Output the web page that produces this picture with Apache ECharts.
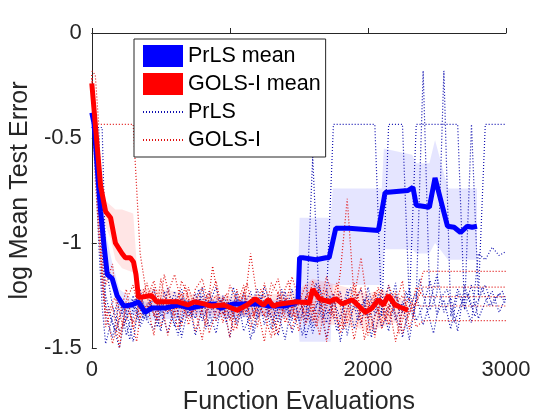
<!DOCTYPE html>
<html>
<head>
<meta charset="utf-8">
<script src="https://cdn.jsdelivr.net/npm/echarts@6/dist/echarts.min.js"></script>
<style>html,body{margin:0;padding:0;background:#fff;}#c{width:560px;height:420px;}</style>
</head>
<body>
<div id="c"></div>
<script>
// ---- data ----
const xTicks = [0, 1000, 2000, 3000];
const yTicks = [-1.5, -1, -0.5, 0];

const prlsMeanX = [0, 16, 40, 64, 90, 112, 148, 183, 231, 290, 337, 386, 433, 528, 624, 719, 814, 886, 933, 1029, 1052, 1195, 1290, 1400, 1493, 1505, 1529, 1624, 1695, 1719, 1767, 1862, 2076, 2124, 2290, 2326, 2350, 2445, 2486, 2576, 2624, 2671, 2719, 2755, 2790];
const prlsMeanY = [-0.38, -0.43, -0.65, -0.85, -1.02, -1.15, -1.17, -1.25, -1.30, -1.295, -1.28, -1.33, -1.31, -1.31, -1.295, -1.31, -1.295, -1.29, -1.31, -1.29, -1.29, -1.29, -1.30, -1.30, -1.28, -1.07, -1.07, -1.08, -1.07, -1.07, -0.93, -0.93, -0.94, -0.76, -0.75, -0.735, -0.82, -0.83, -0.69, -0.92, -0.925, -0.95, -0.92, -0.925, -0.92];

const golsMeanX = [0, 64, 100, 136, 171, 219, 243, 279, 302, 320, 338, 386, 433, 469, 552, 624, 695, 743, 814, 862, 957, 1052, 1124, 1183, 1243, 1279, 1314, 1362, 1481, 1576, 1600, 1648, 1719, 1767, 1814, 1886, 1981, 2029, 2076, 2112, 2148, 2195, 2290];
const golsMeanY = [-0.24, -0.73, -0.85, -0.88, -1.00, -1.05, -1.07, -1.07, -1.09, -1.15, -1.26, -1.255, -1.25, -1.28, -1.28, -1.28, -1.295, -1.28, -1.29, -1.30, -1.295, -1.32, -1.295, -1.265, -1.295, -1.27, -1.30, -1.29, -1.28, -1.285, -1.22, -1.265, -1.28, -1.265, -1.29, -1.27, -1.33, -1.31, -1.27, -1.295, -1.25, -1.295, -1.32];

const prlsBandX   = [0, 50, 100, 150, 200, 300, 400, 600, 800, 1000, 1200, 1400, 1490, 1505, 1730, 1745, 2100, 2115, 2320, 2350, 2445, 2486, 2580, 2790];
const prlsBandLow = [-0.42, -0.80, -1.12, -1.22, -1.34, -1.34, -1.37, -1.36, -1.35, -1.36, -1.35, -1.36, -1.35, -1.47, -1.47, -1.20, -1.20, -1.03, -1.03, -1.05, -1.05, -1.00, -1.08, -1.08];
const prlsBandUp  = [-0.30, -0.60, -0.95, -1.10, -1.22, -1.27, -1.28, -1.27, -1.27, -1.27, -1.27, -1.27, -1.27, -0.88, -0.88, -0.74, -0.74, -0.55, -0.58, -0.62, -0.62, -0.51, -0.74, -0.74];

const golsBandX   = [0, 64, 100, 136, 171, 219, 300, 320, 338, 500, 800, 1100, 1400, 1500, 1600, 1900, 2000, 2100, 2290];
const golsBandLow = [-0.28, -0.78, -0.92, -0.98, -1.08, -1.12, -1.14, -1.20, -1.31, -1.32, -1.34, -1.35, -1.34, -1.36, -1.38, -1.40, -1.42, -1.40, -1.36];
const golsBandUp  = [-0.20, -0.62, -0.80, -0.82, -0.84, -0.84, -0.86, -1.05, -1.22, -1.22, -1.25, -1.25, -1.24, -1.22, -1.17, -1.22, -1.24, -1.22, -1.28];

const runX = [0, 25, 50, 75, 100,
  150, 200, 250, 300, 350, 400, 450, 500, 550, 600,
  650, 700, 750, 800, 850, 900, 950, 1000, 1050, 1100,
  1150, 1200, 1250, 1300, 1350, 1400, 1450, 1500, 1550, 1600,
  1650, 1700, 1750, 1800, 1850, 1900, 1950, 2000, 2050, 2100,
  2150, 2200, 2250, 2300, 2350, 2400, 2450, 2500, 2550, 2600,
  2650, 2700, 2750, 2800, 2850, 2900, 2950, 3000];
const runXB = [0, 25, 50, 75, 100,
  175, 225, 275, 325, 375, 425, 475, 525, 575, 625,
  675, 725, 775, 825, 875, 925, 975, 1025, 1075, 1125,
  1175, 1225, 1275, 1325, 1375, 1425, 1475, 1525, 1575, 1625,
  1675, 1725, 1775, 1825, 1875, 1925, 1975, 2025, 2075, 2125,
  2175, 2225, 2275, 2325, 2375, 2425, 2475, 2525, 2575, 2625,
  2675, 2725, 2775, 2825, 2875, 2925, 2975, 3000];

const prlsRun1 = [-0.45, -0.45, -0.45, -0.45, -1.10,
  -1.30, -1.42, -1.36, -1.25, -1.38, -1.30, -1.22, -1.35, -1.28, -1.40,
  -1.26, -1.33, -1.24, -1.37, -1.29, -1.21, -1.34, -1.27, -1.39, -1.30,
  -1.23, -1.36, -1.28, -1.41, -1.25, -1.33, -1.22, -1.37, -1.29, -1.43,
  -1.31, -1.26, -0.435, -0.435, -0.435, -0.435, -0.435, -0.435, -0.435, -1.35,
  -0.435, -0.435, -0.435, -1.28, -0.435, -0.435, -0.435, -0.435, -0.435, -0.435,
  -0.435, -1.32, -0.435, -1.25, -0.435, -0.435, -0.435, -0.435];
const prlsRun2 = [-0.30, -0.45, -0.80, -1.20, -1.35,
  -1.45, -1.28, -1.33, -1.47, -1.24, -1.36, -1.30, -1.42, -1.21, -1.33,
  -1.38, -1.27, -1.44, -1.31, -1.23, -1.37, -1.29, -1.45, -1.26, -1.35,
  -1.30, -1.22, -1.39, -1.27, -1.33, -1.46, -1.29, -1.24, -1.38, -0.59,
  -1.32, -1.45, -1.27, -1.36, -1.22, -1.41, -1.30, -1.25, -1.43, -1.31,
  -1.20, -1.37, -1.28, -1.46, -1.26, -0.18, -1.32, -1.24, -0.18, -1.35,
  -1.22, -1.29, -1.38, -1.05, -1.08, -1.02, -1.06, -1.04];
const prlsRun3 = [-0.45, -0.45, -0.45, -0.95, -1.25,
  -1.38, -1.50, -1.32, -1.27, -1.40, -1.33, -1.26, -1.31, -1.43, -1.28,
  -1.22, -1.35, -1.30, -1.25, -1.40, -1.32, -1.26, -1.36, -1.23, -1.42,
  -1.34, -1.29, -1.24, -1.35, -1.44, -1.27, -1.37, -1.20, -1.45, -1.33,
  -1.27, -1.38, -1.24, -1.47, -1.31, -1.26, -1.39, -1.21, -1.34, -1.29,
  -1.42, -1.25, -1.33, -1.22, -1.37, -1.30, -1.18, -1.34, -1.27, -1.41,
  -1.24, -1.31, -1.20, -1.36, -1.28, -1.23, -1.33, -1.26];
const prlsRun4 = [-0.40, -0.60, -1.00, -1.30, -1.48,
  -1.35, -1.26, -1.44, -1.31, -1.22, -1.37, -1.41, -1.27, -1.34, -1.23,
  -1.45, -1.30, -1.36, -1.21, -1.33, -1.43, -1.25, -1.31, -1.37, -1.24,
  -1.46, -1.32, -1.21, -1.29, -1.38, -1.23, -1.43, -1.33, -1.26, -1.40,
  -1.21, -1.34, -1.29, -1.23, -1.44, -1.28, -1.22, -1.36, -1.27, -1.40,
  -1.33, -1.19, -1.45, -1.30, -1.24, -1.39, -1.28, -1.15, -1.33, -1.26,
  -1.42, -1.20, -1.31, -1.27, -1.20, -1.30, -1.24, -1.29];
const prlsRun5 = [-0.45, -0.45, -0.70, -1.05, -1.30,
  -1.42, -1.31, -1.46, -1.24, -1.36, -1.28, -1.40, -1.23, -1.33, -1.44,
  -1.27, -1.35, -1.22, -1.41, -1.30, -1.26, -1.38, -1.21, -1.34, -1.29,
  -1.43, -1.25, -1.32, -1.39, -1.22, -1.35, -1.28, -1.44, -1.31, -1.19,
  -1.36, -1.25, -1.42, -1.30, -1.21, -1.37, -1.27, -1.45, -1.24, -1.33,
  -1.28, -1.40, -1.23, -1.35, -1.17, -1.31, -1.43, -1.26, -1.22, -1.38,
  -1.29, -1.24, -1.35, -1.21, -1.30, -1.26, -1.23, -1.28];

const golsRun1 = [-0.18, -0.20, -0.435, -0.435, -0.435,
  -0.435, -0.435, -0.435, -0.435, -1.05, -1.26, -1.18, -1.32, -1.24, -1.15,
  -1.29, -1.36, -1.22, -1.17, -1.30, -1.25, -1.38, -1.20, -1.28, -1.33,
  -1.05, -1.27, -1.35, -1.19, -1.24, -1.31, -1.16, -1.27, -1.34, -1.18,
  -1.29, -1.22, -1.36, -1.14, -0.79, -1.26, -1.07, -1.31, -1.23, -1.38,
  -1.20, -1.29, -1.25, -1.34, -1.21, -1.255, -1.255, -1.255, -1.255, -1.255,
  -1.255, -1.255, -1.255, -1.255, -1.255, -1.255, -1.255, -1.255];
const golsRun2 = [-0.22, -0.55, -0.85, -1.00, -1.20,
  -1.10, -1.45, -1.30, -1.38, -1.27, -1.33, -1.21, -1.40, -1.29, -1.35,
  -1.18, -1.26, -1.42, -1.31, -1.23, -1.37, -1.28, -1.45, -1.22, -1.34,
  -1.29, -1.40, -1.19, -1.32, -1.43, -1.26, -1.35, -1.21, -1.39, -1.28,
  -1.44, -1.25, -1.33, -1.40, -1.27, -1.46, -1.30, -1.36, -1.24, -1.41,
  -1.29, -1.47, -1.32, -1.26, -1.40, -1.37, -1.37, -1.37, -1.37, -1.37,
  -1.37, -1.37, -1.37, -1.37, -1.37, -1.37, -1.37, -1.37];
const golsRun3 = [-0.26, -0.70, -0.95, -1.15, -1.30,
  -1.48, -1.35, -1.22, -1.41, -1.30, -1.19, -1.35, -1.26, -1.44, -1.31,
  -1.24, -1.39, -1.28, -1.21, -1.43, -1.33, -1.26, -1.37, -1.30, -1.20,
  -1.41, -1.28, -1.34, -1.45, -1.23, -1.38, -1.30, -1.42, -1.25, -1.33,
  -1.20, -1.47, -1.29, -1.24, -1.38, -1.31, -1.21, -1.44, -1.35, -1.27,
  -1.39, -1.23, -1.43, -1.33, -1.28, -1.21, -1.21, -1.21, -1.21, -1.21,
  -1.21, -1.21, -1.21, -1.21, -1.21, -1.21, -1.21, -1.21];
const golsRun4 = [-0.20, -0.40, -0.75, -1.10, -1.40,
  -1.30, -1.50, -1.27, -1.20, -1.36, -1.29, -1.44, -1.17, -1.33, -1.27,
  -1.40, -1.21, -1.32, -1.46, -1.26, -1.18, -1.34, -1.29, -1.41, -1.23,
  -1.36, -1.31, -1.47, -1.24, -1.17, -1.35, -1.41, -1.28, -1.20, -1.37,
  -1.31, -1.16, -1.26, -1.43, -1.32, -1.19, -1.38, -1.27, -1.45, -1.22,
  -1.35, -1.30, -1.18, -1.41, -1.29, -1.135, -1.135, -1.135, -1.135, -1.135,
  -1.135, -1.135, -1.135, -1.135, -1.135, -1.135, -1.135, -1.135];
const golsRun5 = [-0.20, -0.45, -0.90, -1.20, -1.35,
  -1.25, -1.40, -1.33, -1.47, -1.22, -1.30, -1.37, -1.15, -1.29, -1.41,
  -1.20, -1.33, -1.27, -1.39, -1.11, -1.30, -1.24, -1.42, -1.28, -1.19,
  -1.35, -1.22, -1.30, -1.44, -1.26, -1.18, -1.37, -1.29, -1.23, -1.40,
  -1.27, -1.34, -1.19, -1.41, -1.30, -1.24, -1.46, -1.32, -1.21, -1.37,
  -1.26, -1.43, -1.31, -1.29, -1.30, -1.30, -1.30, -1.30, -1.30, -1.30,
  -1.30, -1.30, -1.30, -1.30, -1.30, -1.30, -1.30, -1.30];

// ---- build ----
const FONT = '"Liberation Sans", Arial, Helvetica, sans-serif';
const AX = '#262626';
const zip = (xs, ys) => xs.map((x, i) => [x, ys[i]]);

function band(name, xs, lo, up, color) {
  return {
    name: name, type: 'custom', data: zip(xs, up), silent: true, z: 1, clip: true,
    renderItem: function (params, api) {
      if (params.dataIndex !== 0) return null;
      const pts = [];
      for (let i = 0; i < xs.length; i++) pts.push(api.coord([xs[i], up[i]]));
      for (let i = xs.length - 1; i >= 0; i--) pts.push(api.coord([xs[i], lo[i]]));
      return { type: 'polygon', shape: { points: pts }, style: { fill: color, stroke: null } };
    }
  };
}
function run(name, xs, ys, color) {
  return { name: name, type: 'line', data: zip(xs, ys), showSymbol: false, symbol: 'none',
    lineStyle: { color: color, width: 1.2, type: [1, 2] }, itemStyle: { color: color }, z: 2, silent: true };
}

const BLUE_DOT = '#1010b0', RED_DOT = '#e01010';
const series = [
  band('pband', prlsBandX, prlsBandLow, prlsBandUp, 'rgba(0,0,255,0.10)'),
  band('gband', golsBandX, golsBandLow, golsBandUp, 'rgba(255,0,0,0.10)'),
  run('PrLS', runX, prlsRun1, BLUE_DOT), run('PrLS', runX, prlsRun2, BLUE_DOT), run('PrLS', runX, prlsRun3, BLUE_DOT),
  run('PrLS', runX, prlsRun4, BLUE_DOT), run('PrLS', runXB, prlsRun5, BLUE_DOT),
  run('GOLS-I', runX, golsRun1, RED_DOT), run('GOLS-I', runX, golsRun2, RED_DOT), run('GOLS-I', runX, golsRun3, RED_DOT),
  run('GOLS-I', runX, golsRun4, RED_DOT), run('GOLS-I', runXB, golsRun5, RED_DOT),
  { name: 'PrLS mean', type: 'line', data: zip(prlsMeanX, prlsMeanY), showSymbol: false, symbol: 'none',
    lineStyle: { color: '#0000ff', width: 5 }, itemStyle: { color: '#0000ff' }, z: 3 },
  { name: 'GOLS-I mean', type: 'line', data: zip(golsMeanX, golsMeanY), showSymbol: false, symbol: 'none',
    lineStyle: { color: '#ff0000', width: 5 }, itemStyle: { color: '#ff0000' }, z: 4 }
];

const chart = echarts.init(document.getElementById('c'), null, { renderer: 'canvas' });
chart.setOption({
  animation: false,
  backgroundColor: '#ffffff',
  grid: { left: 86, right: 54, top: 33, bottom: 70, containLabel: false },
  legend: {
    data: [
      { name: 'PrLS mean', icon: 'rect' },
      { name: 'GOLS-I mean', icon: 'rect' },
      { name: 'PrLS', itemStyle: { opacity: 0 } },
      { name: 'GOLS-I', itemStyle: { opacity: 0 } }
    ],
    orient: 'vertical', left: 134, top: 39,
    itemWidth: 40, itemHeight: 22, itemGap: 6, padding: [6, 5, 6, 8],
    backgroundColor: '#ffffff', borderColor: AX, borderWidth: 1, borderRadius: 0,
    selectedMode: false, z: 10,
    textStyle: { fontFamily: FONT, fontSize: 21.5, color: '#000', lineHeight: 22 }
  },
  xAxis: {
    type: 'value', min: xTicks[0], max: xTicks[xTicks.length - 1], interval: 1000,
    name: 'Function Evaluations', nameLocation: 'middle', nameGap: 42,
    nameTextStyle: { fontFamily: FONT, fontSize: 25, color: AX },
    axisLine: { show: true, lineStyle: { color: AX, width: 1 } },
    axisTick: { show: true, inside: true, length: 5, lineStyle: { color: AX } },
    axisLabel: { fontFamily: FONT, fontSize: 22, color: AX, margin: 11, formatter: function (v) { return String(v); } },
    splitLine: { show: false }
  },
  yAxis: {
    type: 'value', min: yTicks[0], max: yTicks[yTicks.length - 1], interval: 0.5,
    name: 'log Mean Test Error', nameLocation: 'middle', nameGap: 44,
    nameTextStyle: { fontFamily: FONT, fontSize: 25, color: AX },
    axisLine: { show: true, onZero: false, lineStyle: { color: AX, width: 1 } },
    axisTick: { show: true, inside: true, length: 5, lineStyle: { color: AX } },
    axisLabel: { fontFamily: FONT, fontSize: 22, color: AX, margin: 10, formatter: function (v) { return String(v); } },
    splitLine: { show: false }
  },
  series: series
});
</script>
</body>
</html>
